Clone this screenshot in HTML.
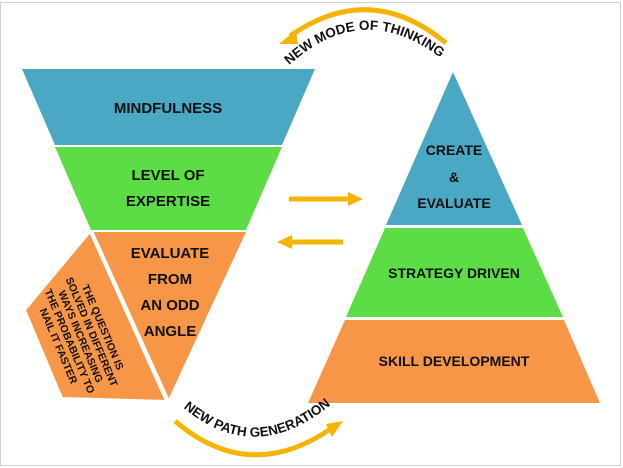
<!DOCTYPE html>
<html><head><meta charset="utf-8"><style>
html,body{margin:0;padding:0;background:#fff;}
svg{display:block;}
text{font-family:"Liberation Sans",sans-serif;font-weight:bold;fill:#111;}
</style></head><body>
<svg width="623" height="468" viewBox="0 0 623 468" xmlns="http://www.w3.org/2000/svg">
<rect x="0.5" y="2.5" width="620" height="463" fill="#fff" stroke="#d0d0d0"/>
<defs>
<path id="topArc" d="M284,70 Q362,-6 446,62"/>
<path id="botArc" d="M180,405 Q255,470 334,402"/>
</defs>
<!-- left funnel -->
<polygon points="22,69 315,69 282,145 55,145" fill="#4aa8c4"/>
<polygon points="55,147 282,147 246,230 91,230" fill="#5cdd46"/>
<polygon points="91,232 246,232 168,400" fill="#f79646"/>
<polygon points="90,232 25,310 62,398 166,401" fill="#f79646" stroke="#fff" stroke-width="2"/>
<line x1="92" y1="232" x2="168" y2="400" stroke="#fff" stroke-width="3"/>
<text x="168" y="113" font-size="15" text-anchor="middle">MINDFULNESS</text>
<text x="168" y="180" font-size="15" text-anchor="middle">LEVEL OF</text>
<text x="168" y="206" font-size="15" text-anchor="middle">EXPERTISE</text>
<text x="170" y="258" font-size="15" text-anchor="middle">EVALUATE</text>
<text x="170" y="284" font-size="15" text-anchor="middle">FROM</text>
<text x="170" y="310" font-size="15" text-anchor="middle">AN ODD</text>
<text x="170" y="336" font-size="15" text-anchor="middle">ANGLE</text>
<g transform="translate(82,336) rotate(67)" font-size="10.5">
<text x="0" y="-19" text-anchor="middle">THE QUESTION IS</text>
<text x="0" y="-7" text-anchor="middle">SOLVED IN DIFFERENT</text>
<text x="0" y="5" text-anchor="middle">WAYS INCREASING</text>
<text x="0" y="17" text-anchor="middle">THE PROBABILITY TO</text>
<text x="0" y="29" text-anchor="middle">NAIL IT FASTER</text>
</g>
<!-- right pyramid -->
<polygon points="453,72 522,225 386,225" fill="#4aa8c4"/>
<polygon points="385,228 523,228 563,317 346,317" fill="#5cdd46"/>
<polygon points="345,320 564,320 600,403 308,403" fill="#f79646"/>
<text x="454" y="155" font-size="14" text-anchor="middle">CREATE</text>
<text x="454" y="182" font-size="14" text-anchor="middle">&amp;</text>
<text x="454" y="208" font-size="14" text-anchor="middle">EVALUATE</text>
<text x="454" y="278" font-size="14" text-anchor="middle">STRATEGY DRIVEN</text>
<text x="454" y="366" font-size="14" text-anchor="middle">SKILL DEVELOPMENT</text>
<!-- straight arrows -->
<line x1="289" y1="199" x2="350" y2="199" stroke="#f5b400" stroke-width="5"/>
<polygon points="348,192 363,199 348,206" fill="#f5b400"/>
<line x1="343" y1="242" x2="290" y2="242" stroke="#f5b400" stroke-width="5"/>
<polygon points="292,235 277,242 292,249" fill="#f5b400"/>
<!-- curved arrows -->
<path d="M446,43 Q370,-20 290,36" fill="none" stroke="#f5b400" stroke-width="5"/>
<polygon points="279,44 296,30 298,44" fill="#f5b400"/>
<path d="M175,421 Q250,485 332,428" fill="none" stroke="#f5b400" stroke-width="5"/>
<polygon points="343,421 326,424 332,437" fill="#f5b400"/>
<text font-size="13.5"><textPath href="#topArc" startOffset="50%" text-anchor="middle">NEW MODE OF THINKING</textPath></text>
<text font-size="13.5"><textPath href="#botArc" startOffset="50%" text-anchor="middle">NEW PATH GENERATION</textPath></text>
</svg>
</body></html>
